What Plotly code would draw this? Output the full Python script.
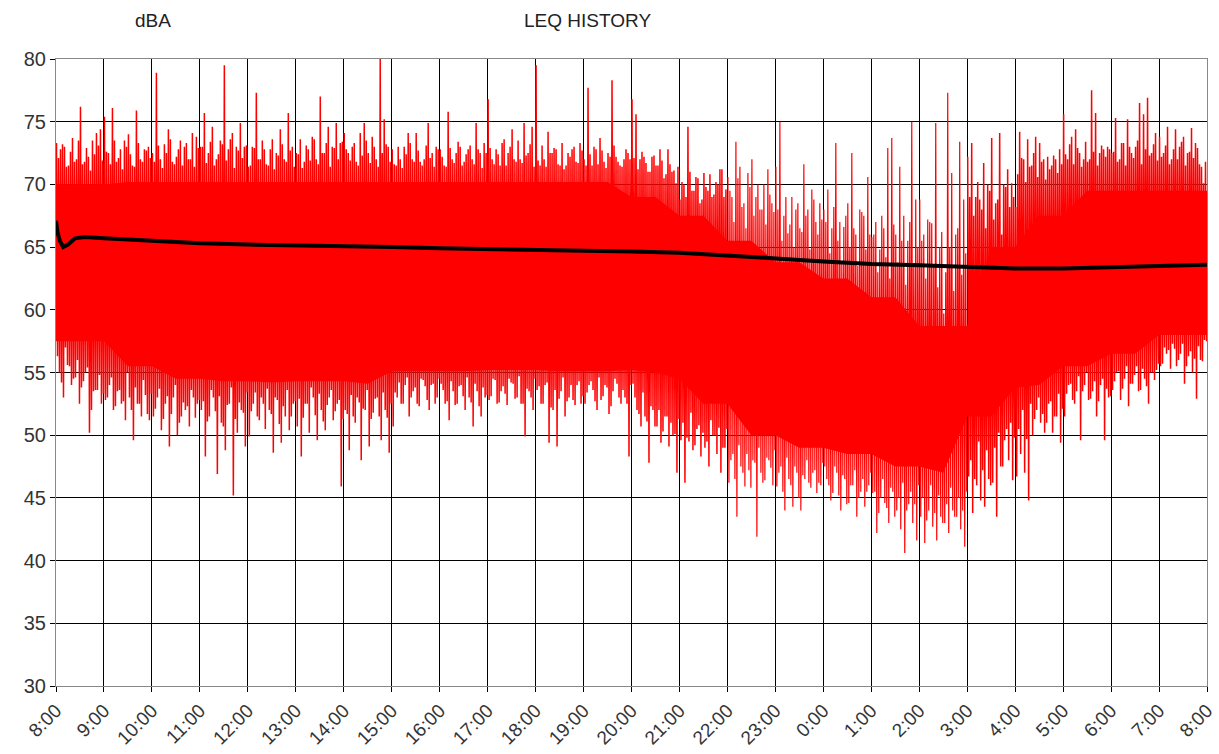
import plotly.graph_objects as go

# ---------------- data ----------------
hour_labels = ["8:00", "9:00", "10:00", "11:00", "12:00", "13:00", "14:00", "15:00",
               "16:00", "17:00", "18:00", "19:00", "20:00", "21:00", "22:00", "23:00",
               "0:00", "1:00", "2:00", "3:00", "4:00", "5:00", "6:00", "7:00", "8:00"]
y_ticks = [30, 35, 40, 45, 50, 55, 60, 65, 70, 75, 80]

# instantaneous level: tallest spikes and deepest dips, 12 of each per hour (8:00 .. 7:00)
peak_rows = [
    [73.3, 72.8, 73.0, 71.5, 73.7, 72.0, 76.2, 71.8, 72.2, 73.5, 74.1, 74.4],
    [75.4, 72.5, 76.1, 71.8, 72.8, 73.5, 74.0, 71.5, 75.9, 72.0, 72.8, 73.0],
    [72.5, 78.9, 72.0, 73.2, 74.4, 71.8, 72.2, 73.5, 73.0, 72.0, 74.1, 73.8],
    [73.0, 75.7, 72.5, 74.6, 72.0, 73.5, 79.5, 72.8, 74.1, 73.0, 74.9, 73.0],
    [71.4, 73.0, 77.3, 72.0, 72.8, 71.5, 73.6, 72.5, 74.4, 72.0, 75.7, 73.0],
    [72.5, 73.6, 71.8, 72.8, 73.8, 72.0, 77.0, 72.5, 74.6, 73.0, 74.9, 73.3],
    [74.1, 72.5, 73.0, 71.8, 74.1, 74.9, 72.5, 73.8, 72.0, 80.0, 75.2, 73.0],
    [72.8, 71.5, 72.0, 73.0, 74.1, 72.0, 74.1, 71.8, 72.0, 74.9, 72.5, 73.0],
    [72.8, 71.5, 75.8, 72.0, 72.5, 73.0, 71.8, 72.8, 72.0, 74.9, 72.5, 73.3],
    [76.8, 72.0, 72.8, 71.5, 73.6, 72.5, 74.4, 71.8, 72.0, 74.9, 72.5, 74.6],
    [79.5, 71.5, 72.0, 74.2, 72.5, 72.8, 71.5, 71.2, 72.5, 72.8, 71.8, 73.3],
    [72.0, 77.7, 71.5, 72.8, 73.7, 71.8, 72.5, 78.3, 72.2, 71.5, 72.0, 72.5],
    [76.8, 75.6, 72.0, 72.2, 71.0, 72.2, 71.5, 72.8, 70.5, 72.8, 71.0, 70.1],
    [68.8, 70.0, 74.6, 69.5, 70.6, 68.5, 70.9, 69.5, 69.0, 70.2, 71.2, 69.0],
    [70.6, 69.0, 73.4, 71.4, 68.5, 70.9, 72.0, 69.0, 68.0, 70.0, 71.2, 68.5],
    [71.4, 75.0, 67.5, 66.1, 69.0, 68.0, 66.5, 71.6, 68.0, 69.6, 67.0, 68.5],
    [68.0, 69.6, 66.5, 73.3, 67.0, 66.6, 68.5, 72.5, 66.0, 68.0, 67.5, 70.6],
    [65.8, 67.0, 64.8, 66.5, 72.9, 73.7, 66.0, 71.4, 67.5, 65.5, 75.0, 68.8],
    [68.8, 66.0, 67.2, 66.9, 74.9, 65.0, 59.7, 77.3, 70.9, 66.0, 73.4, 68.8],
    [72.2, 73.3, 69.0, 68.8, 71.7, 70.0, 73.7, 68.5, 74.1, 70.0, 71.2, 70.1],
    [68.2, 74.2, 72.0, 73.6, 71.5, 73.8, 73.3, 72.0, 72.2, 71.5, 72.0, 72.8],
    [75.6, 72.0, 73.8, 74.4, 72.5, 72.0, 71.8, 77.5, 75.7, 72.5, 72.8, 73.0],
    [72.5, 75.3, 72.0, 73.3, 75.2, 72.5, 73.0, 76.5, 75.6, 76.9, 72.5, 74.1],
    [73.8, 72.5, 74.6, 72.0, 74.4, 73.0, 73.8, 72.5, 74.5, 73.3, 71.6, 70.1],
]
trough_rows = [
    [56.3, 54.2, 57.0, 55.5, 54.5, 56.0, 53.8, 55.0, 50.2, 53.5, 53.6, 52.5],
    [52.8, 54.0, 52.0, 53.5, 52.5, 51.2, 53.0, 49.6, 52.5, 51.5, 53.2, 51.2],
    [51.5, 53.0, 50.4, 52.5, 49.1, 53.0, 50.0, 51.5, 52.0, 50.7, 53.0, 52.5],
    [52.0, 48.3, 51.5, 53.0, 46.9, 51.0, 48.8, 52.5, 45.2, 50.2, 52.0, 49.1],
    [49.9, 52.5, 51.5, 53.0, 50.5, 52.0, 48.6, 52.8, 49.4, 51.5, 50.4, 52.5],
    [50.7, 48.3, 52.5, 50.2, 53.0, 49.6, 52.0, 50.4, 53.0, 51.2, 52.5, 45.9],
    [52.0, 48.8, 51.5, 53.0, 48.0, 52.0, 49.1, 51.8, 53.0, 49.6, 52.0, 48.6],
    [50.7, 53.0, 52.5, 54.0, 51.5, 53.5, 52.5, 54.5, 53.9, 52.0, 54.1, 53.0],
    [54.1, 52.5, 51.2, 53.5, 52.5, 54.0, 52.0, 53.0, 50.7, 53.5, 51.5, 53.0],
    [52.8, 54.5, 52.5, 53.5, 53.3, 54.5, 54.1, 53.0, 52.5, 49.9, 53.5, 52.0],
    [53.6, 52.5, 54.0, 49.4, 52.0, 49.1, 53.5, 51.5, 53.0, 52.8, 54.0, 52.5],
    [52.5, 54.0, 53.6, 52.0, 52.8, 54.0, 51.7, 53.5, 54.1, 52.5, 53.0, 48.3],
    [54.1, 52.0, 50.7, 51.5, 47.8, 52.0, 50.7, 49.4, 51.5, 49.1, 50.0, 47.0],
    [49.6, 46.2, 49.5, 48.8, 50.5, 48.3, 49.0, 47.5, 50.0, 48.5, 47.0, 49.0],
    [46.2, 48.5, 43.5, 47.5, 45.9, 47.2, 48.0, 41.9, 47.0, 46.4, 48.0, 46.0],
    [45.9, 47.5, 44.0, 46.5, 44.3, 47.0, 44.0, 46.5, 46.2, 47.0, 45.4, 46.0],
    [47.5, 46.0, 45.4, 47.0, 44.0, 46.5, 44.6, 46.0, 43.5, 45.5, 44.3, 46.0],
    [45.4, 42.2, 45.0, 44.6, 43.0, 45.5, 44.0, 42.5, 40.6, 44.5, 43.0, 41.6],
    [43.5, 41.4, 44.0, 42.7, 41.6, 43.5, 43.0, 42.2, 44.0, 43.5, 42.5, 41.1],
    [46.7, 43.8, 46.0, 44.8, 44.3, 46.5, 46.2, 43.5, 47.5, 49.6, 48.0, 46.4],
    [46.7, 48.5, 47.0, 44.8, 50.0, 52.0, 51.0, 50.2, 52.5, 50.2, 51.5, 49.4],
    [51.5, 54.0, 52.8, 53.5, 49.6, 54.0, 52.8, 53.5, 51.5, 54.0, 49.6, 53.0],
    [53.6, 55.0, 52.8, 54.5, 52.3, 54.1, 55.5, 53.6, 54.5, 52.5, 55.0, 55.2],
    [55.5, 57.0, 56.8, 57.3, 55.5, 56.5, 54.1, 56.3, 55.0, 52.9, 56.0, 57.6],
]
# ordinary (non-extreme) swings of the instantaneous level, 12 highs / 12 lows per hour
mid_high_rows = [
    [72.1, 73.2, 71.4, 72.6, 71.8, 73.5, 71.6, 72.9, 71.1, 72.4, 73.1, 71.9],
    [72.6, 71.6, 73.5, 72.1, 71.2, 73.0, 72.4, 71.4, 73.3, 71.8, 72.7, 72.1],
    [71.8, 73.1, 71.3, 72.5, 73.6, 71.6, 72.8, 71.5, 73.3, 72.0, 71.4, 72.9],
    [73.0, 71.7, 73.4, 71.5, 72.4, 73.2, 71.9, 73.6, 71.3, 72.7, 72.1, 73.1],
    [71.5, 72.9, 72.0, 73.5, 71.6, 72.8, 71.2, 72.3, 73.2, 71.8, 72.7, 71.4],
    [72.4, 71.3, 73.1, 71.9, 73.6, 71.6, 72.5, 73.3, 71.4, 72.9, 72.0, 73.4],
    [72.8, 71.9, 73.3, 71.5, 72.3, 73.5, 71.7, 73.0, 71.4, 72.5, 73.2, 71.8],
    [71.6, 73.0, 71.3, 72.4, 73.3, 71.8, 72.7, 71.5, 73.1, 72.1, 71.4, 72.8],
    [72.2, 71.4, 72.9, 71.7, 73.4, 71.5, 72.4, 73.1, 71.6, 72.8, 71.3, 72.5],
    [72.9, 71.6, 72.4, 73.3, 71.5, 73.0, 72.0, 73.5, 71.7, 72.3, 73.2, 71.4],
    [71.9, 73.1, 71.4, 72.5, 72.9, 71.6, 73.3, 71.5, 72.2, 73.0, 71.7, 72.7],
    [71.5, 72.4, 73.0, 71.6, 72.7, 71.3, 72.2, 73.1, 71.8, 71.4, 72.8, 72.0],
    [72.1, 71.2, 72.6, 71.7, 71.0, 72.3, 71.5, 71.9, 70.8, 71.6, 71.1, 71.4],
    [70.2, 69.0, 71.0, 69.5, 70.5, 68.8, 69.8, 70.8, 69.2, 70.0, 71.2, 69.6],
    [69.5, 67.0, 70.5, 68.2, 66.5, 69.8, 67.5, 70.0, 68.0, 66.8, 69.2, 67.8],
    [68.0, 65.5, 69.0, 66.8, 65.0, 68.5, 66.2, 67.5, 64.8, 68.8, 66.0, 67.2],
    [67.0, 64.5, 68.2, 65.5, 63.8, 67.5, 65.0, 66.5, 63.5, 67.8, 64.8, 66.0],
    [66.0, 63.0, 67.5, 64.2, 62.5, 66.8, 63.8, 65.5, 62.0, 67.0, 63.5, 65.0],
    [65.5, 62.5, 67.0, 63.5, 61.8, 66.2, 63.0, 65.0, 61.5, 66.5, 62.8, 64.5],
    [69.0, 67.5, 70.2, 68.0, 66.5, 69.5, 67.2, 68.8, 66.0, 69.8, 68.2, 69.0],
    [70.8, 72.1, 70.2, 71.4, 72.5, 70.6, 71.8, 70.4, 71.2, 72.3, 70.9, 71.6],
    [72.4, 73.2, 71.6, 72.9, 71.4, 73.4, 72.0, 72.6, 71.5, 73.1, 72.2, 72.8],
    [72.6, 71.8, 73.3, 71.5, 73.0, 72.1, 73.5, 71.6, 72.8, 72.3, 73.2, 71.9],
    [72.2, 73.1, 71.6, 72.8, 72.0, 73.4, 71.5, 72.6, 72.1, 72.9, 71.4, 71.8],
]
mid_low_rows = [
    [55.0, 53.0, 55.6, 54.0, 54.6, 52.5, 54.3, 55.4, 52.0, 53.6, 54.8, 53.3],
    [53.0, 54.6, 52.3, 53.6, 52.7, 55.0, 52.0, 53.8, 52.5, 54.4, 51.7, 53.3],
    [52.1, 53.7, 51.3, 53.1, 51.7, 54.0, 51.0, 52.6, 52.3, 53.6, 51.4, 52.8],
    [52.7, 51.1, 53.6, 51.9, 53.1, 50.7, 52.4, 53.8, 51.3, 52.6, 51.8, 53.4],
    [51.9, 53.4, 51.2, 52.5, 53.7, 51.7, 53.0, 50.9, 52.3, 53.6, 51.5, 52.7],
    [52.9, 51.4, 52.5, 53.8, 51.6, 53.3, 51.1, 52.4, 53.6, 51.9, 52.8, 51.3],
    [51.7, 53.2, 51.0, 52.6, 52.1, 53.6, 51.3, 52.9, 51.5, 53.4, 51.4, 52.5],
    [53.4, 54.2, 52.5, 54.6, 53.0, 53.8, 52.3, 54.4, 52.8, 54.0, 52.5, 54.5],
    [53.6, 52.7, 54.3, 52.4, 53.9, 53.1, 54.6, 52.6, 54.1, 52.3, 53.8, 53.2],
    [53.1, 54.4, 52.6, 53.9, 52.4, 54.2, 52.9, 54.7, 52.5, 53.7, 53.0, 54.5],
    [53.9, 52.5, 54.2, 52.2, 53.6, 52.9, 54.6, 52.7, 54.0, 52.4, 54.3, 53.1],
    [53.4, 54.3, 52.7, 54.6, 53.1, 53.8, 52.3, 54.5, 53.0, 53.6, 52.5, 54.0],
    [53.0, 51.7, 53.4, 51.1, 52.3, 50.7, 52.0, 50.3, 51.5, 51.0, 50.1, 51.3],
    [51.0, 49.8, 51.8, 49.2, 50.8, 50.2, 49.5, 51.2, 50.0, 50.6, 49.0, 50.5],
    [48.0, 46.5, 49.2, 47.0, 48.5, 45.8, 47.8, 49.0, 46.2, 48.2, 47.4, 48.8],
    [47.0, 45.5, 48.2, 46.0, 47.5, 45.0, 46.8, 48.0, 45.8, 47.2, 46.2, 47.8],
    [46.5, 44.8, 47.5, 45.2, 46.8, 44.5, 46.0, 47.2, 45.0, 46.5, 45.5, 47.0],
    [45.5, 43.8, 46.5, 44.2, 45.8, 43.5, 45.0, 46.2, 44.0, 45.5, 44.5, 46.0],
    [45.0, 43.2, 46.0, 43.8, 45.2, 43.0, 44.5, 45.8, 43.5, 45.0, 44.0, 45.5],
    [48.0, 46.5, 49.5, 47.2, 48.8, 46.0, 49.0, 50.2, 47.5, 50.5, 51.0, 49.8],
    [50.5, 52.0, 49.7, 52.5, 51.3, 53.0, 51.7, 51.0, 52.7, 51.5, 53.3, 52.1],
    [53.3, 54.1, 52.5, 54.7, 53.5, 55.0, 52.9, 54.3, 52.7, 54.5, 53.7, 53.1],
    [54.3, 55.1, 53.7, 55.5, 54.1, 54.8, 53.5, 55.3, 53.9, 55.0, 54.4, 55.7],
    [55.7, 56.5, 55.3, 56.9, 56.0, 57.3, 55.5, 56.7, 56.1, 57.1, 55.9, 57.5],
]
# hours (counted from 8:00) drawn with thinner strokes: the quieter night
quiet_hours = [14, 15, 16, 17, 18]

# solid core of the instantaneous level, every half hour from 8:00 to 8:00
core_high = [70.0, 70.0, 70.0, 70.2, 70.2, 70.2, 70.2, 70.2, 70.2, 70.2,
             70.2, 70.2, 70.2, 70.2, 70.2, 70.2, 70.2, 70.2, 70.2, 70.2,
             70.2, 70.2, 70.2, 70.2, 69.0, 69.0, 67.5, 67.5, 65.5, 65.5,
             63.8, 63.8, 62.5, 62.5, 61.0, 61.0, 58.7, 58.7, 58.7, 65.0,
             65.0, 67.5, 67.5, 69.5, 69.5, 69.5, 69.5, 69.5, 69.5]
core_low = [57.5, 57.5, 57.5, 55.5, 55.5, 54.5, 54.5, 54.3, 54.3, 54.2,
            54.3, 54.3, 54.3, 54.1, 55.1, 55.1, 55.1, 55.1, 55.2, 55.2,
            55.2, 55.1, 55.1, 55.1, 55.2, 55.0, 54.5, 52.5, 52.5, 50.0,
            50.0, 49.0, 49.0, 48.5, 48.5, 47.5, 47.5, 47.0, 51.5, 51.5,
            53.8, 54.0, 55.5, 55.5, 56.5, 56.5, 58.0, 58.0, 58.0]

# running LEQ (hours after 8:00, dBA)
leq_hours = [0, 0.03, 0.08, 0.15, 0.25, 0.4, 0.6, 0.9, 1, 2, 3, 4, 5, 6, 7, 8,
             9, 10, 11, 12, 13, 14, 15, 16, 17, 18, 19, 20, 21, 22, 23, 24]
leq_values = [67.1, 66.2, 65.5, 65.0, 65.2, 65.7, 65.8, 65.7, 65.7, 65.5, 65.3,
              65.2, 65.15, 65.05, 65.0, 64.9, 64.85, 64.75, 64.7, 64.65, 64.55,
              64.35, 64.1, 63.85, 63.65, 63.55, 63.4, 63.3, 63.3, 63.4, 63.5, 63.6]

# ---------------- build series ----------------
busy_x, busy_y, quiet_x, quiet_y = [], [], [], []
prev_quiet = None
for h in range(24):
    seq = []
    for p, t, mh, ml in zip(peak_rows[h], trough_rows[h],
                            mid_high_rows[h], mid_low_rows[h]):
        seq += [p, t, mh, ml]
    n = len(seq)
    is_quiet = h in quiet_hours
    xs, ys = (quiet_x, quiet_y) if is_quiet else (busy_x, busy_y)
    if prev_quiet is not None and prev_quiet != is_quiet and xs:
        xs.append(None)
        ys.append(None)
    for k, v in enumerate(seq):
        xs.append(h + (k + 0.5) / n)
        ys.append(v)
    prev_quiet = is_quiet

core_x = [i * 0.5 for i in range(len(core_high))]

RED = "#FF0000"
fig = go.Figure()
fig.add_trace(go.Scatter(x=core_x, y=core_low, mode="lines",
                         line=dict(width=0, color=RED), hoverinfo="skip",
                         showlegend=False))
fig.add_trace(go.Scatter(x=core_x, y=core_high, mode="lines", fill="tonexty",
                         fillcolor=RED, line=dict(width=0, color=RED),
                         hoverinfo="skip", showlegend=False))
fig.add_trace(go.Scatter(x=busy_x, y=busy_y, mode="lines", connectgaps=False,
                         line=dict(width=1.5, color=RED), name="Instantaneous",
                         showlegend=False))
fig.add_trace(go.Scatter(x=quiet_x, y=quiet_y, mode="lines", connectgaps=False,
                         line=dict(width=1.2, color=RED), name="Instantaneous (night)",
                         showlegend=False))
fig.add_trace(go.Scatter(x=leq_hours, y=leq_values, mode="lines",
                         line=dict(width=4, color="#000000"), name="LEQ",
                         showlegend=False))

font_family = "Liberation Sans, Arial, sans-serif"
W, H = 1219, 754
ML, MR, MT, MB = 56, 12, 59, 68
pw, ph = W - ML - MR, H - MT - MB


def paper_pos(px, py):
    return (px - ML) / pw, (H - MB - py) / ph


anns = []
for text, (px, py) in [("dBA", (153, 20)), ("LEQ HISTORY", (587, 20))]:
    ax, ay = paper_pos(px, py)
    anns.append(dict(text=text, x=ax, y=ay, xref="paper", yref="paper",
                     showarrow=False, xanchor="center", yanchor="middle",
                     font=dict(size=19, color="#222222", family=font_family)))

fig.update_layout(
    width=W, height=H,
    margin=dict(l=ML, r=MR, t=MT, b=MB),
    paper_bgcolor="white", plot_bgcolor="white",
    font=dict(family=font_family, size=19, color="#333333"),
    showlegend=False,
    annotations=anns,
)

fig.update_xaxes(
    range=[0, 24], tickmode="array", tickvals=list(range(25)), ticktext=hour_labels,
    tickangle=-45, showgrid=True, gridcolor="#000000", gridwidth=1,
    ticks="outside", ticklen=5, tickcolor="#000000", tickwidth=1,
    showline=True, linecolor="#888888", linewidth=1, mirror=True,
    zeroline=False, automargin=False,
    tickfont=dict(size=19, color="#333333", family=font_family),
)
fig.update_yaxes(
    range=[30, 80], tickmode="array", tickvals=y_ticks,
    showgrid=True, gridcolor="#000000", gridwidth=1,
    ticks="outside", ticklen=5, tickcolor="#000000", tickwidth=1,
    showline=True, linecolor="#888888", linewidth=1, mirror=True,
    zeroline=False, automargin=False,
    tickfont=dict(size=20, color="#333333", family=font_family),
)

fig.write_html("out.html",
               config={"displayModeBar": False},
               post_script="document.body.style.margin='0';"
                           "document.body.style.overflow='hidden';")
